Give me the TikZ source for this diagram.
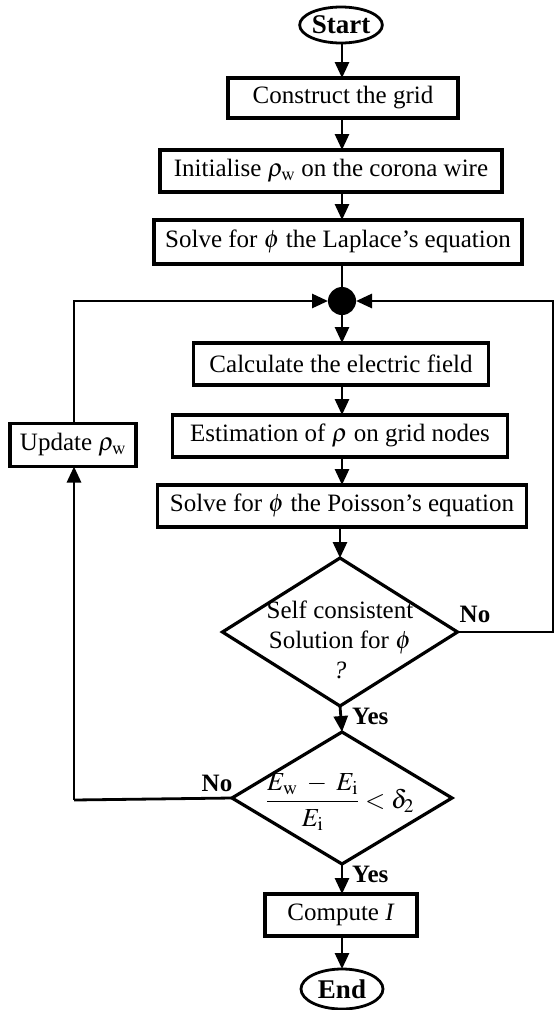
\documentclass[tikz,border=0pt]{standalone}
\usepackage{mathptmx}
\usepackage{fontspec}
\setmainfont{Liberation Serif}
\usetikzlibrary{arrows.meta,shapes.geometric}
\begin{document}
\begin{tikzpicture}[x=1pt,y=-1pt,
  txt/.style={font=\fontsize{25}{30}\selectfont},
  box/.style={draw, line width=3.2pt, rectangle, minimum height=42pt, inner sep=0pt, outer sep=0pt, txt},
  term/.style={draw, line width=2.8pt, ellipse, minimum width=82pt, minimum height=36pt, inner sep=0pt, outer sep=0pt, font=\bfseries\fontsize{27}{30}\selectfont},
  dec/.style={draw, line width=3.2pt, diamond, inner sep=0pt, outer sep=0pt},
  flow/.style={line width=2.8pt, -{Triangle[length=16pt,width=14pt]}},
  plain/.style={line width=2.8pt},
  lbl/.style={font=\bfseries\fontsize{25}{28}\selectfont, inner sep=0pt}
]
\useasboundingbox (0,0) rectangle (555,1010);
\coordinate (axis) at (342,0);
\node[term] (start) at (341,25) {Start};
\node[box, minimum width=230pt, minimum height=40pt] (b1) at (343,98) {Construct the grid};
\node[box, minimum width=342pt] (b2) at (331,171) {Initialise $\rho_{\mathrm{w}}$ on the corona wire};
\node[box, minimum width=368pt, minimum height=44pt] (b3) at (338,242) {Solve for $\phi$ the Laplace’s equation};
\node[circle, fill=black, minimum size=28pt, inner sep=0pt, outer sep=0pt] (dot) at (342,301) {};
\node[box, minimum width=295pt] (b4) at (341,364) {Calculate the electric field};
\node[box, minimum width=335pt] (b5) at (340,436) {Estimation of $\rho$ on grid nodes};
\node[box, minimum width=369pt] (b6) at (342,506) {Solve for $\phi$ the Poisson’s equation};
\node[dec, minimum width=235pt, minimum height=148pt] (d1) at (340,632) {};
\node[txt, align=center, inner sep=0pt] (d1t) at (340,640) {Self consistent\\Solution for $\phi$\\\textit{?}};
\node[dec, minimum width=220pt, minimum height=132pt] (d2) at (342,798) {};
\node[font=\fontsize{26}{30}\selectfont, inner sep=0pt] (d2t) at (340,802) {$\displaystyle\frac{E_{\mathrm{w}}\;-\;E_{\mathrm{i}}}{E_{\mathrm{i}}}<\delta_2$};
\node[box, minimum width=152pt] (comp) at (341,915) {Compute \textit{I}};
\node[term, minimum height=40pt] (end) at (342,989) {End};
\node[box, minimum width=126pt, minimum height=43pt] (upd) at (73,445) {Update $\rho_{\mathrm{w}}$};
\node[lbl] (no1) at (475,614) {No};
\node[lbl] (no2) at (217,783) {No};
\node[lbl, anchor=west] (yes1) at (352,716) {Yes};
\node[lbl, anchor=west] (yes2) at (352,874) {Yes};
\coordinate (r1) at (553,632);
\coordinate (r2) at (553,301);
\coordinate (l1) at (74,800);
\coordinate (l2) at (74,301);
\draw[flow] (start.south -| axis) -- (b1.north -| axis);
\draw[flow] (b1.south -| axis) -- (b2.north -| axis);
\draw[flow] (b2.south -| axis) -- (b3.north -| axis);
\draw[plain] (b3.south -| axis) -- (dot.north);
\draw[flow] (dot.south) -- (b4.north -| axis);
\draw[flow] (b4.south -| axis) -- (b5.north -| axis);
\draw[flow] (b5.south -| axis) -- (b6.north -| axis);
\draw[flow] (b6.south -| d1) -- (d1.north);
\draw[flow] (d1.south) -- (d2.north);
\draw[flow] (d2.south) -- (comp.north -| d2);
\draw[flow] (comp.south -| end) -- (end.north);
\draw[flow] (d1.east) -- (r1) -- (r2) -- (dot.east);
\draw[plain] (d2.west) -- (l1);
\draw[flow] (l1) -- (upd.south -| l1);
\draw[flow] (upd.north -| l2) -- (l2) -- (dot.west);
\end{tikzpicture}
\end{document}
